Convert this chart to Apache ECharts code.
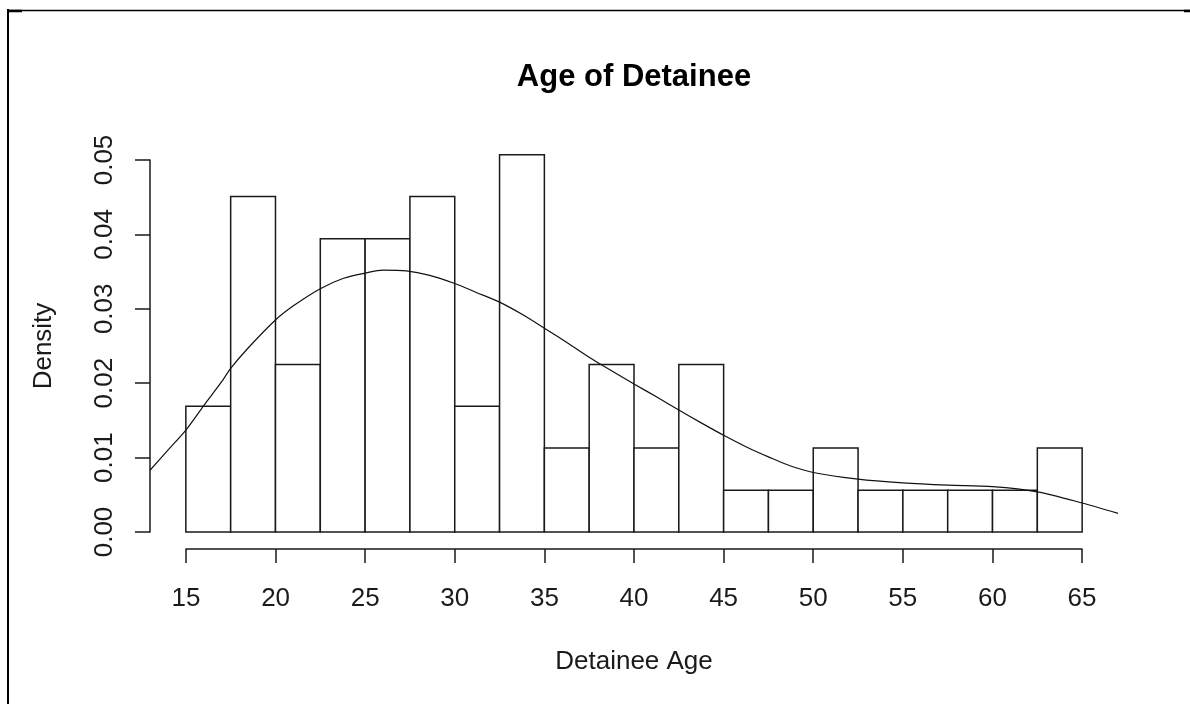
<!DOCTYPE html>
<html>
<head>
<meta charset="utf-8">
<script src="https://cdn.jsdelivr.net/npm/echarts@6/dist/echarts.min.js"></script>
<style>
  html, body { margin: 0; padding: 0; background: #fff; }
  #main { width: 1190px; height: 704px; }
</style>
</head>
<body>
<div id="main"></div>
<script>
// histogram breaks (bin edges) and bar heights (density)
var breaks = [15, 17.5, 20, 22.5, 25, 27.5, 30, 32.5, 35, 37.5, 40,
              42.5, 45, 47.5, 50, 52.5, 55, 57.5, 60, 62.5, 65];
var densities = [0.0169, 0.0451, 0.0225, 0.0394, 0.0394, 0.0451, 0.0169, 0.0507, 0.0113, 0.0225,
                 0.0113, 0.0225, 0.0056, 0.0056, 0.0113, 0.0056, 0.0056, 0.0056, 0.0056, 0.0113];

// kernel density curve
var curveX = [13, 14, 15, 16, 17, 17.5, 18.5, 20, 21, 22.5, 23.8, 25, 26, 27.3, 28.6, 30,
              31.2, 32.5, 33.8, 35, 36.3, 37.5, 38.3, 40, 41.3, 42.5, 43.8, 45, 46.3, 47.5,
              48.7, 50, 52.5, 55, 57.5, 60, 62.5, 65, 67];
var curveY = [0.0083, 0.0110, 0.0137, 0.0170, 0.0202, 0.0220, 0.0248, 0.0285, 0.0304, 0.0327,
              0.0341, 0.0348, 0.0352, 0.0351, 0.0345, 0.0334, 0.0322, 0.0309, 0.0292, 0.0274,
              0.0254, 0.0235, 0.0223, 0.0199, 0.0181, 0.0164, 0.0146, 0.0130, 0.0114, 0.0101,
              0.0089, 0.0080, 0.0071, 0.0066, 0.0063, 0.0061, 0.0054, 0.0039, 0.0025];

var xTicks = [15, 20, 25, 30, 35, 40, 45, 50, 55, 60, 65];

var myChart = echarts.init(document.getElementById('main'));

var bars = [];
densities.forEach(function (d, i) {
  bars.push([breaks[i], breaks[i + 1], d]);
});
var curve = curveX.map(function (x, i) { return [x, curveY[i]]; });

var font = '"Liberation Sans", Arial, sans-serif';
var ink = '#1a1a1a';

var option = {
  animation: false,
  backgroundColor: '#fff',
  title: {
    text: 'Age of Detainee',
    left: 634,
    top: 62,
    padding: 0,
    textAlign: 'center',
    textStyle: { fontFamily: font, fontSize: 31, fontWeight: 'bold', color: '#000' }
  },
  grid: [
    { left: 150, right: 72, top: 160, bottom: 172 },
    { left: 186, right: 108, top: 160, bottom: 155 }
  ],
  xAxis: [
    { gridIndex: 0, type: 'value', min: 13, max: 67, show: false },
    {
      gridIndex: 1, type: 'value', min: 15, max: 65, interval: 5,
      name: 'Detainee Age', nameLocation: 'middle', nameGap: 100,
      nameTextStyle: { fontFamily: font, fontSize: 26, color: ink },
      axisLine: { show: true, lineStyle: { color: ink, width: 1.5 } },
      axisTick: { show: true, length: 14, lineStyle: { color: ink, width: 1.5 } },
      axisLabel: {
        margin: 37, fontFamily: font, fontSize: 26, color: ink,
        customValues: xTicks
      },
      splitLine: { show: false }
    }
  ],
  yAxis: [
    {
      gridIndex: 0, type: 'value', min: 0, max: 0.05, interval: 0.01,
      name: 'Density', nameLocation: 'middle', nameGap: 93,
      nameTextStyle: { fontFamily: font, fontSize: 26, color: ink },
      axisLine: { show: true, lineStyle: { color: ink, width: 1.5 } },
      axisTick: { show: true, length: 15, lineStyle: { color: ink, width: 1.5 } },
      axisLabel: {
        rotate: 90, margin: 32, fontFamily: font, fontSize: 26, color: ink,
        formatter: function (v) { return v.toFixed(2); }
      },
      splitLine: { show: false }
    },
    { gridIndex: 1, type: 'value', show: false }
  ],
  series: [
    {
      type: 'custom',
      xAxisIndex: 0,
      yAxisIndex: 0,
      clip: false,
      data: bars,
      renderItem: function (params, api) {
        var p0 = api.coord([api.value(0), api.value(2)]);
        var p1 = api.coord([api.value(1), 0]);
        return {
          type: 'rect',
          shape: { x: p0[0], y: p0[1], width: p1[0] - p0[0], height: p1[1] - p0[1] },
          style: { fill: '#fff', stroke: ink, lineWidth: 1.5 }
        };
      }
    },
    {
      type: 'line',
      xAxisIndex: 0,
      yAxisIndex: 0,
      data: curve,
      smooth: 0.3,
      symbol: 'none',
      lineStyle: { color: '#111', width: 1.2 },
      z: 5
    }
  ],
  graphic: [
    { type: 'line', shape: { x1: 8, y1: 9, x2: 8, y2: 704 }, style: { stroke: '#000', lineWidth: 2 } },
    { type: 'line', shape: { x1: 7, y1: 10.5, x2: 1190, y2: 10.5 }, style: { stroke: '#000', lineWidth: 1.5 } },
    { type: 'line', shape: { x1: 8, y1: 11, x2: 22, y2: 11 }, style: { stroke: '#000', lineWidth: 2.5 } },
    { type: 'line', shape: { x1: 1184, y1: 11, x2: 1190, y2: 11 }, style: { stroke: '#000', lineWidth: 2.5 } }
  ]
};

myChart.setOption(option);
</script>
</body>
</html>
